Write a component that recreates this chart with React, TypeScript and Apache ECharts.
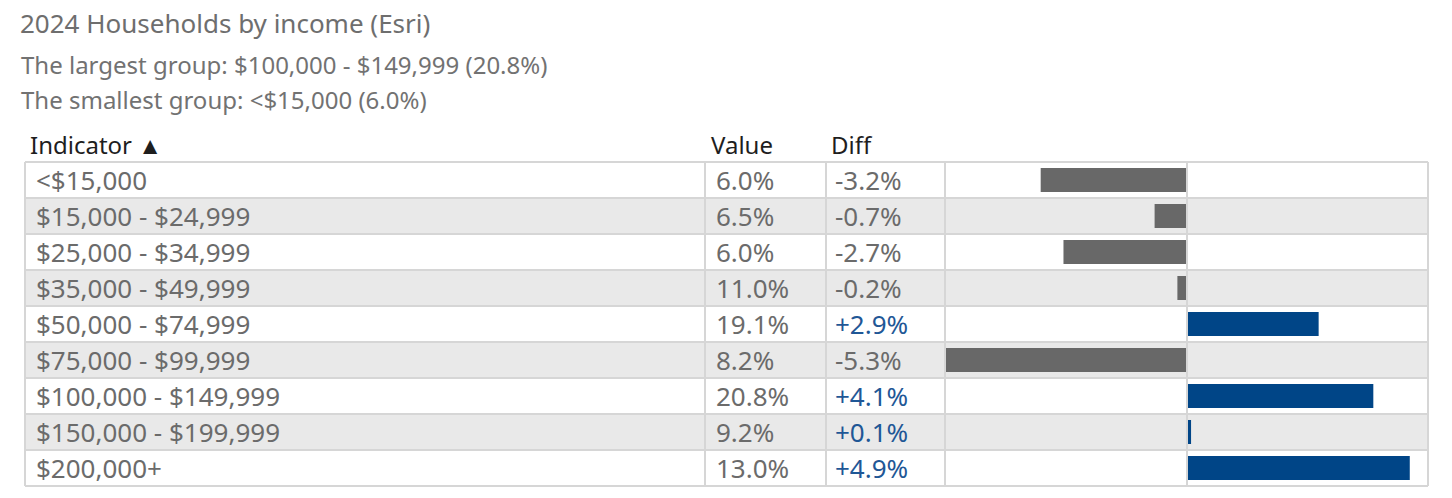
import React, { useEffect, useRef } from "react";
import * as echarts from "echarts";

const categories = [
  "<$15,000",
  "$15,000 - $24,999",
  "$25,000 - $34,999",
  "$35,000 - $49,999",
  "$50,000 - $74,999",
  "$75,000 - $99,999",
  "$100,000 - $149,999",
  "$150,000 - $199,999",
  "$200,000+",
];
const values = [6.0, 6.5, 6.0, 11.0, 19.1, 8.2, 20.8, 9.2, 13.0];
const diffs = [-3.2, -0.7, -2.7, -0.2, 2.9, -5.3, 4.1, 0.1, 4.9];

const titleText = "2024 Households by income (Esri)";
const subtitle1 = "The largest group: $100,000 - $149,999 (20.8%)";
const subtitle2 = "The smallest group: <$15,000 (6.0%)";
const headers = ["Indicator \u25B2", "Value", "Diff"];

const FONT = "'Noto Sans', sans-serif";
const GRAY_TEXT = "#6b6b6b";
const BLUE_TEXT = "#1f5796";
const BAR_NEG = "#686868";
const BAR_POS = "#004587";
const BORDER = "#d6d6d6";
const ALT_BG = "#e9e9e9";

const TABLE_LEFT = 25;
const TABLE_RIGHT = 1428;
const TABLE_TOP = 162;
const ROW_H = 36;
const COL_X = [25, 705, 826, 945, 1428];
const CENTER_X = 1187;

export default function App() {
  const ref = useRef<HTMLDivElement>(null);

  useEffect(() => {
    document.body.style.margin = "0";
    const chart = echarts.init(ref.current!, undefined, { renderer: "svg" });
    const n = categories.length;
    const tableBottom = TABLE_TOP + ROW_H * n;
    const graphics: any[] = [];

    for (let i = 0; i < n; i++) {
      if (i % 2 === 1) {
        graphics.push({
          type: "rect",
          z: -10,
          shape: { x: TABLE_LEFT, y: TABLE_TOP + i * ROW_H, width: TABLE_RIGHT - TABLE_LEFT, height: ROW_H },
          style: { fill: ALT_BG },
        });
      }
    }
    for (let i = 0; i <= n; i++) {
      const y = TABLE_TOP + i * ROW_H;
      graphics.push({
        type: "line",
        z: 50,
        shape: { x1: TABLE_LEFT, y1: y, x2: TABLE_RIGHT, y2: y },
        style: { stroke: BORDER, lineWidth: 2 },
      });
    }
    [...COL_X, CENTER_X].forEach((x) => {
      graphics.push({
        type: "line",
        z: 50,
        shape: { x1: x, y1: TABLE_TOP, x2: x, y2: tableBottom },
        style: { stroke: BORDER, lineWidth: 2 },
      });
    });

    graphics.push({
      type: "text",
      x: 20,
      y: 23,
      style: { text: titleText, fill: "#6e6e6e", font: `26px ${FONT}`, verticalAlign: "middle" },
    });
    graphics.push({
      type: "text",
      x: 21,
      y: 64,
      style: { text: subtitle1, fill: "#727272", font: `24px ${FONT}`, verticalAlign: "middle" },
    });
    graphics.push({
      type: "text",
      x: 21,
      y: 99,
      style: { text: subtitle2, fill: "#727272", font: `24px ${FONT}`, verticalAlign: "middle" },
    });

    const headerX = [30, 711, 831];
    headers.forEach((h, k) => {
      graphics.push({
        type: "text",
        x: headerX[k],
        y: 144,
        style: { text: h, fill: "#1e1e1e", font: `24px ${FONT}`, verticalAlign: "middle" },
      });
    });

    for (let i = 0; i < n; i++) {
      const yc = TABLE_TOP + i * ROW_H + ROW_H / 2;
      graphics.push({
        type: "text",
        x: 36,
        y: yc,
        style: { text: categories[i], fill: GRAY_TEXT, font: `26px ${FONT}`, verticalAlign: "middle" },
      });
      graphics.push({
        type: "text",
        x: 716,
        y: yc,
        style: { text: values[i].toFixed(1) + "%", fill: GRAY_TEXT, font: `26px ${FONT}`, verticalAlign: "middle" },
      });
      const d = diffs[i];
      graphics.push({
        type: "text",
        x: 835,
        y: yc,
        style: {
          text: (d > 0 ? "+" : "") + d.toFixed(1) + "%",
          fill: d > 0 ? BLUE_TEXT : GRAY_TEXT,
          font: `26px ${FONT}`,
          verticalAlign: "middle",
        },
      });
    }

    const maxAbs = Math.max(...diffs.map((d) => Math.abs(d)));

    chart.setOption({
      animation: false,
      graphic: graphics,
      grid: {
        left: COL_X[3],
        right: 1452 - TABLE_RIGHT,
        top: TABLE_TOP,
        height: ROW_H * n,
        containLabel: false,
      },
      xAxis: {
        type: "value",
        min: -maxAbs,
        max: maxAbs,
        show: false,
      },
      yAxis: {
        type: "category",
        data: categories,
        inverse: true,
        show: false,
      },
      series: [
        {
          type: "bar",
          barWidth: 24,
          z: 10,
          data: diffs.map((d) => ({
            value: d,
            itemStyle: { color: d < 0 ? BAR_NEG : BAR_POS },
          })),
        },
      ],
    });
    return () => chart.dispose();
  }, []);

  return <div ref={ref} style={{ width: 1452, height: 498 }} />;
}
